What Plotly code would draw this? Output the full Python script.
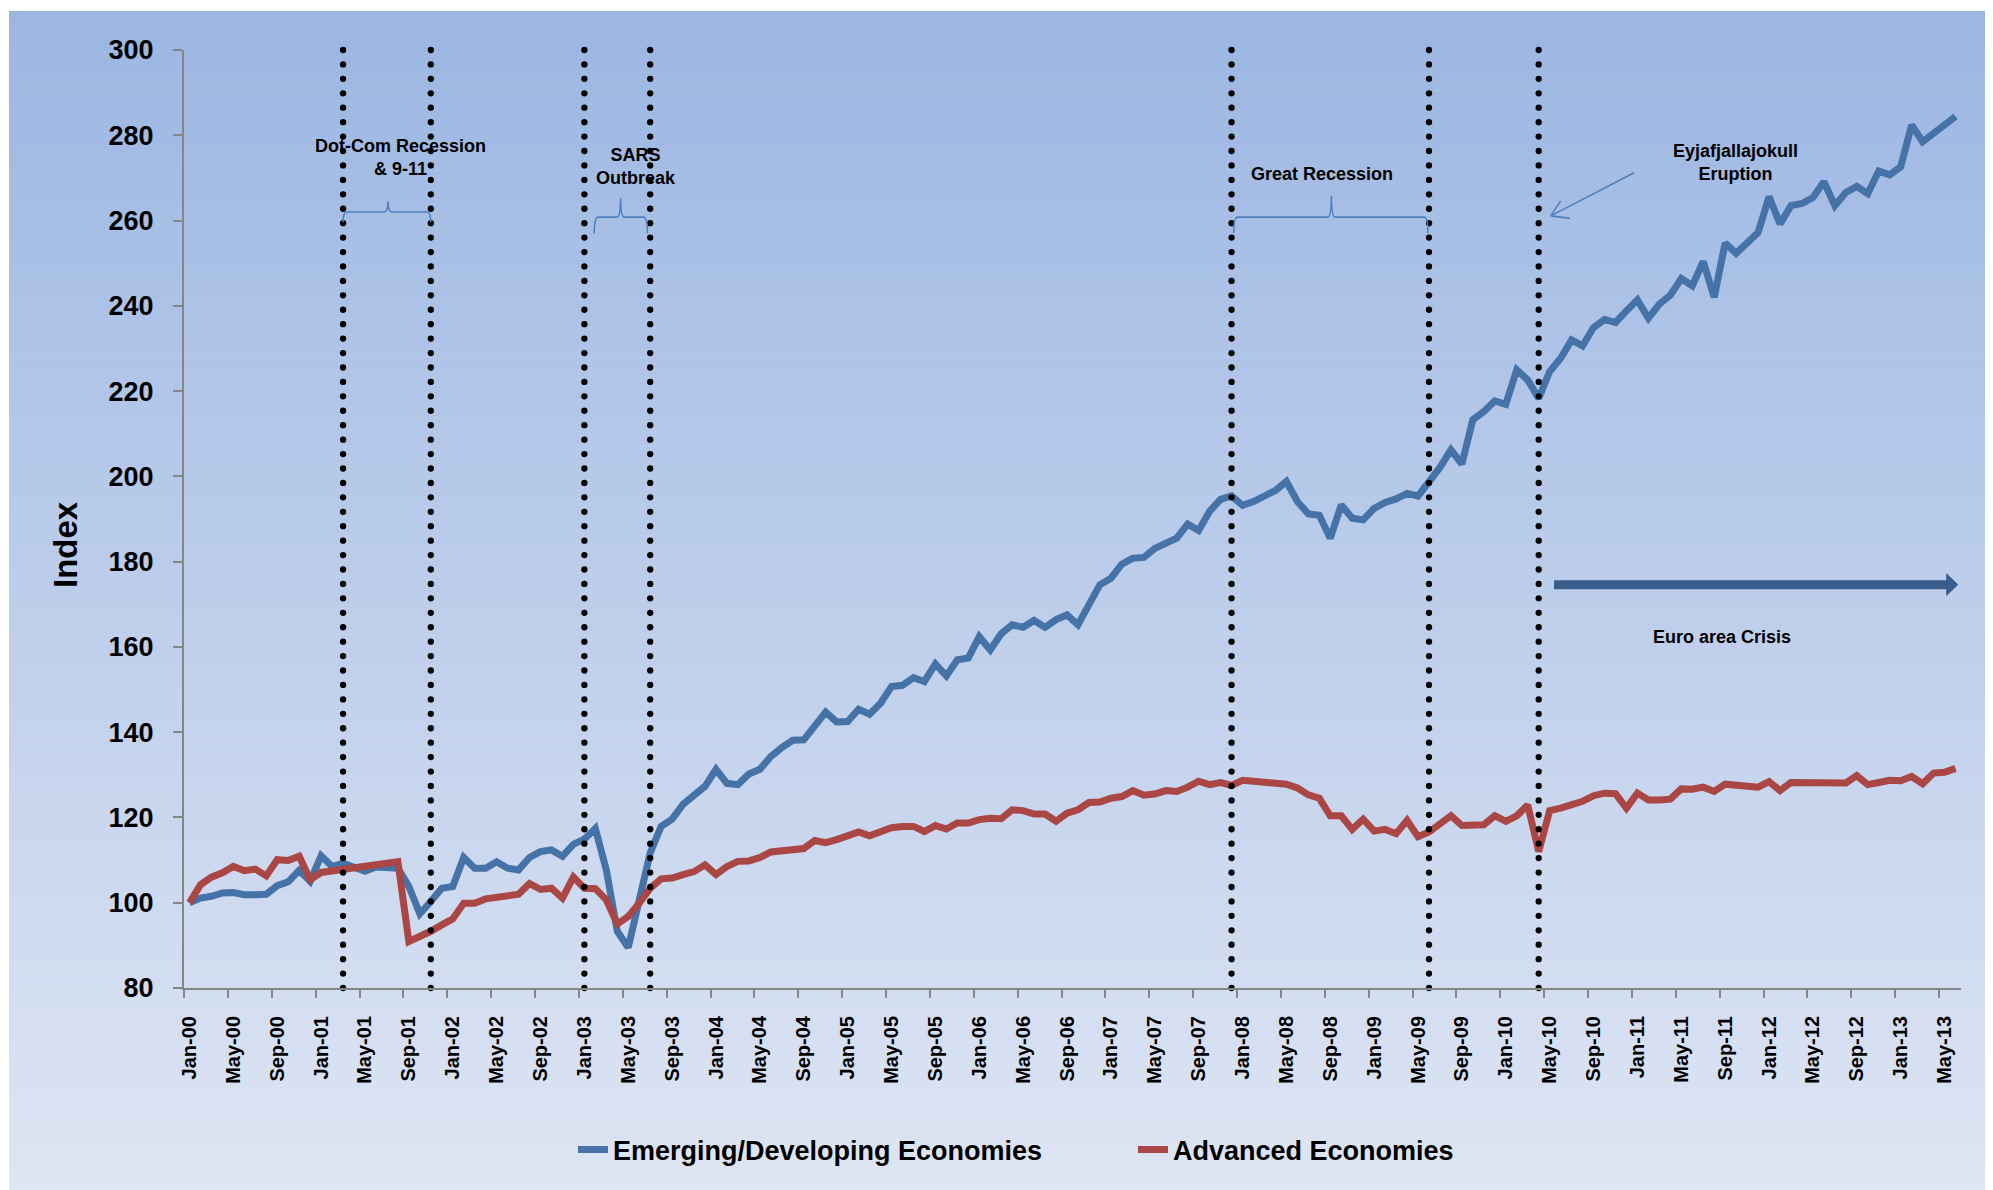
import numpy as np
import pandas as pd
import plotly.graph_objects as go

# monthly index, Jan-2000 = 100
months = pd.date_range("2000-01-01", periods=162, freq="MS")
month_labels = [d.strftime("%b-%y") for d in months]

emerging = [
    100.0, 101.1, 101.5, 102.3, 102.4, 101.9, 101.9, 102.0, 104.0, 104.9, 107.6, 105.0,
    111.0, 108.5, 109.3, 108.4, 107.4, 108.4, 108.4, 108.1, 103.8, 97.4, 100.3, 103.4,
    103.8, 110.6, 108.1, 108.1, 109.6, 108.1, 107.7, 110.6, 112.0, 112.4, 110.9, 113.7,
    114.9, 117.4, 107.7, 93.3, 89.5, 100.7, 111.7, 117.9, 119.6, 123.1, 125.1, 127.3,
    131.3, 128.0, 127.7, 130.2, 131.3, 134.3, 136.4, 138.1, 138.2, 141.6, 144.7, 142.4,
    142.5, 145.4, 144.2, 146.8, 150.7, 151.0, 152.8, 151.9, 156.0, 153.2, 157.0, 157.4,
    162.4, 159.3, 163.1, 165.2, 164.6, 166.2, 164.6, 166.4, 167.5, 165.2, 170.3, 174.6,
    176.1, 179.4, 180.8, 181.0, 183.1, 184.5, 185.5, 188.8, 187.3, 191.8, 194.6, 195.4,
    193.2, 194.1, 195.3, 196.7, 198.8, 194.1, 191.2, 190.9, 185.5, 193.3, 190.2, 189.8,
    192.5, 193.9, 194.7, 196.0, 195.4, 198.8, 202.1, 206.2, 202.9, 213.3, 215.2, 217.7,
    216.9, 225.0, 222.6, 218.3, 224.6, 227.7, 232.0, 230.6, 234.9, 236.8, 236.1, 238.8,
    241.4, 237.1, 240.4, 242.5, 246.4, 244.7, 250.4, 242.0, 254.7, 252.3, 254.7, 257.2,
    265.6, 259.2, 263.5, 264.0, 265.4, 269.1, 263.5, 266.6, 268.0, 266.3, 271.6, 270.7,
    272.6, 282.4, 278.5, 280.5, 282.6, 284.4,
]

advanced = [
    100.0, 104.2, 106.0, 107.0, 108.5, 107.5, 107.9, 106.3, 110.1, 109.9, 110.9, 105.4,
    107.1, 107.4, 107.7, 108.3, 108.5, 108.9, 109.1, 109.6, 90.9, 91.9, 93.3, 94.8,
    96.2, 99.9, 99.9, 100.9, 101.3, 102.0, 102.0, 104.5, 103.1, 103.4, 101.1, 106.0,
    103.4, 103.3, 100.7, 95.0, 96.8, 99.9, 103.4, 105.6, 105.8, 106.6, 107.3, 108.9,
    106.6, 108.5, 109.7, 109.8, 110.6, 111.9, 112.2, 112.3, 112.7, 114.6, 114.1, 114.8,
    115.9, 116.6, 115.7, 116.7, 117.6, 117.9, 117.9, 116.7, 118.1, 117.3, 118.7, 118.7,
    119.5, 119.8, 119.7, 121.8, 121.6, 120.8, 120.8, 119.1, 121.0, 121.8, 123.5, 123.6,
    124.5, 124.9, 126.3, 125.2, 125.5, 126.3, 126.1, 127.1, 128.5, 127.7, 128.2, 127.5,
    128.7, 128.5, 128.3, 127.8, 127.8, 126.9, 125.3, 124.5, 120.4, 120.4, 117.2, 119.6,
    116.8, 117.2, 116.2, 119.3, 115.5, 116.6, 118.7, 120.4, 118.1, 118.1, 118.3, 120.4,
    119.1, 120.4, 122.9, 112.0, 121.6, 122.2, 123.0, 123.8, 125.1, 125.7, 125.6, 122.2,
    125.7, 124.1, 124.1, 124.3, 126.7, 126.6, 127.1, 126.1, 127.8, 127.7, 127.4, 127.1,
    128.4, 126.3, 128.2, 128.2, 128.2, 128.3, 127.9, 128.1, 129.8, 127.7, 128.2, 128.7,
    128.6, 129.6, 127.9, 130.4, 130.6, 131.5,
]

# dotted event markers (start/end of each episode)
event_months = ["2001-03", "2001-11", "2003-01", "2003-07", "2007-12", "2009-06", "2010-04"]

x = list(range(len(months)))
month_pos = {d.strftime("%Y-%m"): i for i, d in enumerate(months)}
event_x = [month_pos[m] for m in event_months]

# page has an 8px body margin, so shift the layout to land on the same screen pixels
OFF = 8
W, H = 1993, 1190
L, T = 184 - OFF, 50 - OFF
R = W - (1961 - OFF)
B = H - (988 - OFF)
PW, PH = W - L - R, H - T - B


def px(xs):
    return (xs - OFF - L) / PW


def py(ys):
    return (H - B - (ys - OFF)) / PH


FONT = "Liberation Sans, Arial, sans-serif"
BLUE = "#4572A7"
RED = "#AA4643"
BRACE = "#4F81BD"

fig = go.Figure()

fig.add_trace(go.Scatter(x=x, y=emerging, mode="lines", name="Emerging/Developing Economies",
                         line=dict(color=BLUE, width=7), hoverinfo="skip"))
fig.add_trace(go.Scatter(x=x, y=advanced, mode="lines", name="Advanced Economies",
                         line=dict(color=RED, width=7), hoverinfo="skip"))

dot_y = np.linspace(300, 80, 66)
fig.add_trace(go.Scatter(
    x=np.repeat(event_x, len(dot_y)), y=np.tile(dot_y, len(event_x)),
    mode="markers", marker=dict(color="black", size=6.3), showlegend=False,
    hoverinfo="skip", cliponaxis=False))

shapes = []
# gradient background
top = np.array([155, 182, 226])
bot = np.array([223, 230, 244])
n = 120
y_start, y_end = 11, H + OFF
for k in range(n):
    a = y_start + (y_end - y_start) * k / n
    b = y_start + (y_end - y_start) * (k + 1) / n
    c = top + (bot - top) * (k + 0.5) / n
    shapes.append(dict(type="rect", xref="paper", yref="paper", x0=px(9), x1=px(1990),
                       y0=py(b + 0.6), y1=py(a), fillcolor="rgb(%d,%d,%d)" % tuple(c.round()),
                       line=dict(width=0), layer="below"))


def brace(x0, x1, xm, yb, ye, yp):
    d = 0.35
    return ("M{a},{ye} Q{a},{yb} {a2},{yb} L{m1},{yb} Q{m},{yb} {m},{yp} Q{m},{yb} {m2},{yb} "
            "L{b2},{yb} Q{b},{yb} {b},{ye}").format(
        a=x0, a2=x0 + d, m1=xm - d, m=xm, m2=xm + d, b2=x1 - d, b=x1, yb=yb, ye=ye, yp=yp)


for args in [(14, 22, 18.1, 262.0, 259.6, 264.5),
             (36.9, 41.75, 39.3, 260.8, 257.0, 265.3),
             (95.2, 112.9, 104.1, 260.8, 257.0, 265.8)]:
    shapes.append(dict(type="path", xref="x", yref="y", path=brace(*args),
                       line=dict(color=BRACE, width=1.6)))

# Eyjafjallajokull pointer
for (xa, ya, xb, yb) in [(131.7, 271.2, 124.1, 261.1), (124.1, 261.1, 125.0, 264.6),
                         (124.1, 261.1, 125.85, 260.5)]:
    shapes.append(dict(type="line", xref="x", yref="y", x0=xa, y0=ya, x1=xb, y1=yb,
                       line=dict(color=BRACE, width=1.6)))

# Euro area crisis arrow
shapes.append(dict(type="line", xref="x", yref="y", x0=124.4, x1=160.3, y0=174.6, y1=174.6,
                   line=dict(color="#385D8A", width=9)))
shapes.append(dict(type="path", xref="x", yref="y", path="M160.2,172.1 L161.2,174.6 L160.2,177.1 Z",
                   fillcolor="#385D8A", line=dict(color="#385D8A", width=1)))

ann_font = dict(family=FONT, size=18, color="black", weight="bold")
annotations = [
    dict(x=19.2, y=274.9, text="Dot-Com Recession<br>& 9-11"),
    dict(x=40.7, y=272.6, text="SARS<br>Outbreak"),
    dict(x=103.2, y=270.9, text="Great Recession"),
    dict(x=140.9, y=273.7, text="Eyjafjallajokull<br>Eruption"),
    dict(x=139.7, y=162.3, text="Euro area Crisis"),
]
for a in annotations:
    a.update(xref="x", yref="y", showarrow=False, font=ann_font, xanchor="center", yanchor="middle")
annotations.append(dict(xref="paper", yref="paper", x=px(65), y=py(545), text="Index", textangle=-90,
                        xanchor="center", yanchor="middle", showarrow=False,
                        font=dict(family=FONT, size=33, color="black", weight="bold")))

fig.update_layout(
    width=W, height=H,
    margin=dict(l=L, r=R, t=T, b=B),
    paper_bgcolor="white",
    plot_bgcolor="rgba(0,0,0,0)",
    shapes=shapes,
    annotations=annotations,
    showlegend=True,
    legend=dict(orientation="h", xref="container", yref="container",
                x=(573 - OFF) / W, y=1 - (1150 - OFF) / H,
                xanchor="left", yanchor="middle", bgcolor="rgba(0,0,0,0)",
                entrywidth=515,
                font=dict(family=FONT, size=27, color="black", weight="bold")),
    xaxis=dict(
        range=[-0.5, 161.5], showgrid=False, zeroline=False,
        showline=True, linecolor="#868686", linewidth=2,
        tickmode="array", tickvals=x[::4], ticktext=month_labels[::4],
        tickangle=-90, ticks="outside", ticklen=8, tickcolor="rgba(0,0,0,0)",
        ticklabelstandoff=10,
        tickfont=dict(family=FONT, size=20, color="black", weight="bold"),
        minor=dict(tickmode="linear", tick0=-0.5, dtick=4, ticks="outside", ticklen=8,
                   tickcolor="#868686", tickwidth=2, showgrid=False),
    ),
    yaxis=dict(
        range=[80, 300], showgrid=False, zeroline=False,
        showline=True, linecolor="#868686", linewidth=2,
        tickmode="array", tickvals=list(range(80, 301, 20)),
        ticks="outside", ticklen=9, tickcolor="#868686", tickwidth=2,
        ticklabelstandoff=14,
        tickfont=dict(family=FONT, size=27, color="black", weight="bold"),
    ),
)

fig.write_html("out.html")
